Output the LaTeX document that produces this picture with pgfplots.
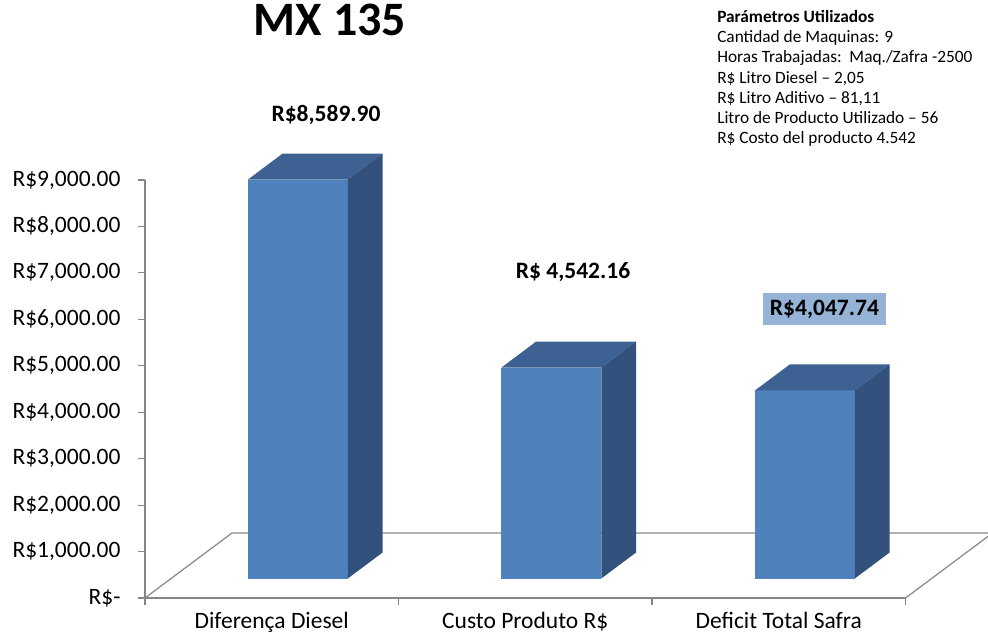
\documentclass[border=0pt]{standalone}
\usepackage{fontspec}
\setmainfont{Carlito}
\usepackage{pgfplots}
\pgfplotsset{compat=1.18}
\definecolor{barfront}{RGB}{79,129,189}
\definecolor{bartop}{RGB}{60,97,146}
\definecolor{barside}{RGB}{50,82,125}
\definecolor{lblbox}{RGB}{149,179,215}
\definecolor{axgray}{RGB}{134,134,134}
% one cuboid bar: #1 left x, #2 right x, #3 value
\newcommand{\cuboid}[3]{%
  \addplot3[fill=barfront, draw=none] coordinates {(#1,0.3,0) (#2,0.3,0) (#2,0.3,#3) (#1,0.3,#3)};
  \addplot3[fill=bartop, draw=none] coordinates {(#1,0.3,#3) (#2,0.3,#3) (#2,0.7,#3) (#1,0.7,#3)};
  \addplot3[fill=barside, draw=none] coordinates {(#2,0.3,0) (#2,0.7,0) (#2,0.7,#3) (#2,0.3,#3)};
}
\begin{document}
\begin{tikzpicture}
\begin{axis}[
  x=253.5pt, y=0.046444pt,
  xmin=-0.5, xmax=2.5, ymin=0, ymax=9000,
  axis x line=bottom, axis y line=left,
  axis line style={axgray, line width=1.2pt, -},
  xtick={-0.5,0.5,1.5,2.5}, xticklabels={},
  extra x ticks={0,1,2},
  extra x tick labels={Diferença Diesel, Custo Produto R\$, Deficit Total Safra},
  extra x tick style={major tick length=0pt},
  ytick={0,1000,...,9000},
  yticklabels={R\$-, R\$1{,}000.00, R\$2{,}000.00, R\$3{,}000.00, R\$4{,}000.00, R\$5{,}000.00, R\$6{,}000.00, R\$7{,}000.00, R\$8{,}000.00, R\$9{,}000.00},
  tick style={axgray, line width=1.2pt},
  major tick length=7pt,
  tick align=outside,
  ticklabel style={font=\fontsize{23.5}{27}\selectfont, text=black},
  xticklabel style={anchor=base, yshift=-30pt},
  yticklabel style={xshift=-14pt},
  clip=false,
]
\coordinate (O) at (axis cs:0,0);
\coordinate (FL) at (axis cs:-0.5,0);
% floor outline (back-left edge, back edge, right edge)
\draw[axgray, line width=1.2pt] (axis cs:-0.5,0) -- (axis cs:-0.1568,1399.5) -- (axis cs:2.8432,1399.5) -- (axis cs:2.5,0);
% title
\node[anchor=base, font=\fontsize{48}{54}\selectfont\bfseries, inner sep=0pt] at (axis cs:0.230,12100) {MX 135};
% parameters (base anchor = baseline of the last line)
\node[anchor=base west, align=left, inner sep=0pt, font=\fontsize{17.3}{20.3}\selectfont] at (axis cs:1.7566,9775)
  {\textbf{Parámetros Utilizados}\\
   Cantidad de Maquinas: 9\\
   Horas Trabajadas:\ \ Maq./Zafra -2500\\
   R\$ Litro Diesel – 2,05\\
   R\$ Litro Aditivo – 81,11\\
   Litro de Producto Utilizado – 56\\
   R\$ Costo del producto 4.542};
% data labels
\node[font=\fontsize{23.5}{27}\selectfont\bfseries, inner sep=0pt] at (axis cs:0.2142,10400) {R\$8,589.90};
\node[font=\fontsize{23.5}{27}\selectfont\bfseries, inner sep=0pt] at (axis cs:1.1886,7019) {R\$ 4,542.16};
\node[font=\fontsize{23.5}{27}\selectfont\bfseries, inner sep=0pt, fill=lblbox, minimum width=123pt, minimum height=32.6pt] at (axis cs:2.1803,6223) {R\$4,047.74};
\end{axis}
\begin{axis}[
  at={(O)}, anchor=origin,
  x={(253.5pt,0pt)}, y={(87pt,65pt)}, z={(0pt,0.046444pt)},
  xmin=-0.5, xmax=2.5, ymin=0, ymax=1, zmin=0, zmax=9000,
  hide axis, clip=false,
]
\cuboid{-0.197}{0.197}{8589.90}
\cuboid{0.803}{1.197}{4542.16}
\cuboid{1.803}{2.197}{4047.74}
\end{axis}
\pgfresetboundingbox
\path (FL) ++(-145pt,-42pt) rectangle ++(988pt,640pt);
\end{tikzpicture}
\end{document}
